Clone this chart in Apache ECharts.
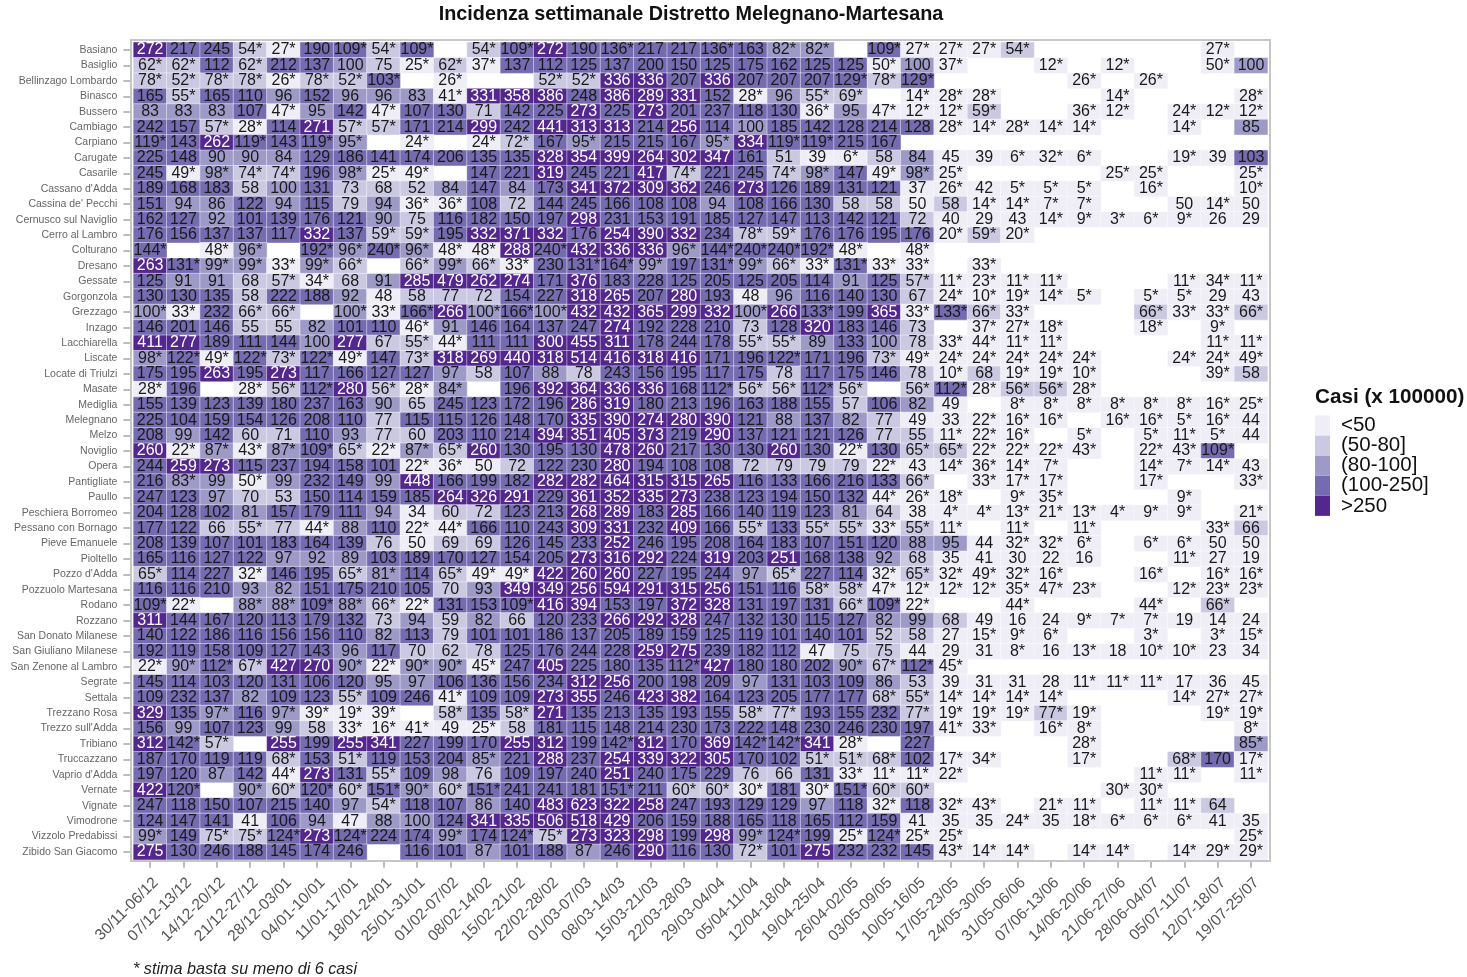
<!DOCTYPE html>
<html>
<head>
<meta charset="utf-8">
<title>Incidenza settimanale</title>
<script src="https://cdn.jsdelivr.net/npm/echarts@6/dist/echarts.min.js"></script>
<style>
  html, body { margin: 0; padding: 0; background: #fff; }
  #chart { width: 1467px; height: 977px; }
</style>
</head>
<body>
<div id="chart"></div>
<script>
const _ = null;

const weeks = [
  "30/11-06/12", "07/12-13/12", "14/12-20/12", "21/12-27/12", "28/12-03/01", "04/01-10/01", "11/01-17/01",
  "18/01-24/01", "25/01-31/01", "01/02-07/02", "08/02-14/02", "15/02-21/02", "22/02-28/02", "01/03-07/03",
  "08/03-14/03", "15/03-21/03", "22/03-28/03", "29/03-04/04", "05/04-11/04", "12/04-18/04", "19/04-25/04",
  "26/04-02/05", "03/05-09/05", "10/05-16/05", "17/05-23/05", "24/05-30/05", "31/05-06/06", "07/06-13/06",
  "14/06-20/06", "21/06-27/06", "28/06-04/07", "05/07-11/07", "12/07-18/07", "19/07-25/07"
];

const towns = [
  "Basiano", "Basiglio", "Bellinzago Lombardo", "Binasco", "Bussero", "Cambiago", "Carpiano", "Carugate",
  "Casarile", "Cassano d'Adda", "Cassina de' Pecchi", "Cernusco sul Naviglio", "Cerro al Lambro", "Colturano",
  "Dresano", "Gessate", "Gorgonzola", "Grezzago", "Inzago", "Lacchiarella", "Liscate", "Locate di Triulzi",
  "Masate", "Mediglia", "Melegnano", "Melzo", "Noviglio", "Opera", "Pantigliate", "Paullo", "Peschiera Borromeo",
  "Pessano con Bornago", "Pieve Emanuele", "Pioltello", "Pozzo d'Adda", "Pozzuolo Martesana", "Rodano", "Rozzano",
  "San Donato Milanese", "San Giuliano Milanese", "San Zenone al Lambro", "Segrate", "Settala", "Trezzano Rosa",
  "Trezzo sull'Adda", "Tribiano", "Truccazzano", "Vaprio d'Adda", "Vernate", "Vignate", "Vimodrone",
  "Vizzolo Predabissi", "Zibido San Giacomo"
];

// one line per town, "*" = stima su meno di 6 casi
const rates = [
  [272,217,245,"54*","27*",190,"109*","54*","109*",_,"54*","109*",272,190,"136*",217,217,"136*",163,"82*","82*",_,"109*","27*","27*","27*","54*",_,_,_,_,_,"27*",_],
  ["62*","62*",112,"62*",212,137,100,75,"25*","62*","37*",137,112,125,137,200,150,125,175,162,125,125,"50*",100,"37*",_,_,"12*",_,"12*",_,_,"50*",100],
  ["78*","52*","78*","78*","26*","78*","52*","103*",_,"26*",_,_,"52*","52*",336,336,207,336,207,207,207,"129*","78*","129*",_,_,_,_,"26*",_,"26*",_,_,_],
  [165,"55*",165,110,96,152,96,96,83,"41*",331,358,386,248,386,289,331,152,"28*",96,"55*","69*",_,"14*","28*","28*",_,_,_,"14*",_,_,_,"28*"],
  [83,83,83,107,"47*",95,142,"47*",107,130,71,142,225,273,225,273,201,237,118,130,"36*",95,"47*","12*","12*","59*",_,_,"36*","12*",_,"24*","12*","12*"],
  [242,157,"57*","28*",114,271,"57*","57*",171,214,299,242,441,313,313,214,256,114,100,185,142,128,214,128,"28*","14*","28*","14*","14*",_,_,"14*",_,85],
  ["119*",143,262,"119*",143,"119*","95*",_,"24*",_,"24*","72*",167,"95*",215,215,167,"95*",334,"119*","119*",215,167,_,_,_,_,_,_,_,_,_,_,_],
  [225,148,90,90,84,129,186,141,174,206,135,135,328,354,399,264,302,347,161,51,39,"6*",58,84,45,39,"6*","32*","6*",_,_,"19*",39,103],
  [245,"49*","98*","74*","74*",196,"98*","25*","49*",_,147,221,319,245,221,417,"74*",221,245,"74*","98*",147,"49*","98*","25*",_,_,_,_,"25*","25*",_,_,"25*"],
  [189,168,183,58,100,131,73,68,52,84,147,84,173,341,372,309,362,246,273,126,189,131,121,37,"26*",42,"5*","5*","5*",_,"16*",_,_,"10*"],
  [151,94,86,122,94,115,79,94,"36*","36*",108,72,144,245,166,108,108,94,108,166,130,58,58,50,58,"14*","14*","7*","7*",_,_,50,"14*",50],
  [162,127,92,101,139,176,121,90,75,116,182,150,197,298,231,153,191,185,127,147,113,142,121,72,40,29,43,"14*","9*","3*","6*","9*",26,29],
  [176,156,137,137,117,332,137,"59*","59*",195,332,371,332,176,254,390,332,234,"78*","59*",176,176,195,176,"20*","59*","20*",_,_,_,_,_,_,_],
  ["144*",_,"48*","96*",_,"192*","96*","240*","96*","48*","48*",288,"240*",432,336,336,"96*","144*","240*","240*","192*","48*",_,"48*",_,_,_,_,_,_,_,_,_,_],
  [263,"131*","99*","99*","33*","99*","66*",_,"66*","99*","66*","33*",230,"131*","164*","99*",197,"131*","99*","66*","33*","131*","33*","33*",_,"33*",_,_,_,_,_,_,_,_],
  [125,91,91,68,"57*","34*",68,91,285,479,262,274,171,376,183,228,125,205,125,205,114,91,125,"57*","11*","23*","11*","11*",_,_,_,"11*","34*","11*"],
  [130,130,135,58,222,188,92,48,58,77,72,154,227,318,265,207,280,193,48,96,116,140,130,67,"24*","10*","19*","14*","5*",_,"5*","5*",29,43],
  ["100*","33*",232,"66*","66*",_,"100*","33*","166*",266,"100*","166*","100*",432,432,365,299,332,"100*",266,"133*",199,365,"33*","133*","66*","33*",_,_,_,"66*","33*","33*","66*"],
  [146,201,146,55,55,82,101,110,"46*",91,146,164,137,247,274,192,228,210,73,128,320,183,146,73,_,"37*","27*","18*",_,_,"18*",_,"9*",_],
  [411,277,189,111,144,100,277,67,"55*","44*",111,111,300,455,311,178,244,178,"55*","55*",89,133,100,78,"33*","44*","11*","11*",_,_,_,_,"11*","11*"],
  ["98*","122*","49*","122*","73*","122*","49*",147,"73*",318,269,440,318,514,416,318,416,171,196,"122*",171,196,"73*","49*","24*","24*","24*","24*","24*",_,_,"24*","24*","49*"],
  [175,195,263,195,273,117,166,127,127,97,58,107,88,78,243,156,195,117,175,78,117,175,146,78,"10*",68,"19*","19*","10*",_,_,_,"39*",58],
  ["28*",196,_,"28*","56*","112*",280,"56*","28*","84*",_,196,392,364,336,336,168,"112*","56*","56*","112*","56*",_,"56*","112*","28*","56*","56*","28*",_,_,_,_,_],
  [155,139,123,139,180,237,163,90,65,245,123,172,196,286,319,180,213,196,163,188,155,57,106,82,49,_,"8*","8*","8*","8*","8*","8*","16*","25*"],
  [225,104,159,154,126,208,110,77,115,115,126,148,170,335,390,274,280,390,121,88,137,82,77,49,33,"22*","16*","16*",_,"16*","16*","5*","16*",44],
  [208,99,142,60,71,110,93,77,60,203,110,214,394,351,405,373,219,290,137,121,121,126,77,55,"11*","22*","16*",_,"5*",_,"5*","11*","5*",44],
  [260,"22*","87*","43*","87*","109*","65*","22*","87*","65*",260,130,195,130,478,260,217,130,130,260,130,"22*",130,"65*","65*","22*","22*","22*","43*",_,"22*","43*","109*",_],
  [244,259,273,115,237,194,158,101,"22*","36*",50,72,122,230,280,194,108,108,72,79,79,79,"22*",43,"14*","36*","14*","7*",_,_,"14*","7*","14*",43],
  [216,"83*",99,"50*",99,232,149,99,448,166,199,182,282,282,464,315,315,265,116,133,166,216,133,"66*",_,"33*","17*","17*",_,_,"17*",_,_,"33*"],
  [247,123,97,70,53,150,114,159,185,264,326,291,229,361,352,335,273,238,123,194,150,132,"44*","26*","18*",_,"9*","35*",_,_,_,"9*",_,_],
  [204,128,102,81,157,179,111,94,34,60,72,123,213,268,289,183,285,166,140,119,123,81,64,38,"4*","4*","13*","21*","13*","4*","9*","9*",_,"21*"],
  [177,122,66,"55*",77,"44*",88,110,"22*","44*",166,110,243,309,331,232,409,166,"55*",133,"55*","55*","33*","55*","11*",_,"11*",_,"11*",_,_,_,"33*",66],
  [208,139,107,101,183,164,139,76,50,69,69,126,145,233,252,246,195,208,164,183,107,151,120,88,95,44,"32*","32*","6*",_,"6*","6*",50,50],
  [165,116,127,122,97,92,89,103,189,170,127,154,205,273,316,292,224,319,203,251,168,138,92,68,35,41,30,22,16,_,_,"11*",27,19],
  ["65*",114,227,"32*",146,195,"65*","81*",114,"65*","49*","49*",422,260,260,227,195,244,97,"65*",227,114,"32*","65*","32*","49*","32*","16*",_,_,"16*",_,"16*","16*"],
  [116,116,210,93,82,151,175,210,105,70,93,349,349,256,594,291,315,256,151,116,"58*","58*","47*","12*","12*","12*","35*","47*","23*",_,_,"12*","23*","23*"],
  ["109*","22*",_,"88*","88*","109*","88*","66*","22*",131,153,"109*",416,394,153,197,372,328,131,197,131,"66*","109*","22*",_,_,"44*",_,_,_,"44*",_,"66*",_],
  [311,144,167,120,113,179,132,73,94,59,82,66,120,233,266,292,328,247,132,130,115,127,82,99,68,49,16,24,"9*","7*","7*",19,14,24],
  [140,122,186,116,156,156,110,82,113,79,101,101,186,137,205,189,159,125,119,101,140,101,52,58,27,"15*","9*","6*",_,_,"3*",_,"3*","15*"],
  [192,119,158,109,127,143,96,117,70,62,78,125,176,244,228,259,275,239,182,112,47,75,75,44,29,31,"8*",16,"13*",18,"10*","10*",23,34],
  ["22*","90*","112*","67*",427,270,"90*","22*","90*","90*","45*",247,405,225,180,135,"112*",427,180,180,202,"90*","67*","112*","45*",_,_,_,_,_,_,_,_,_],
  [145,114,103,120,131,106,120,95,97,106,136,156,234,312,256,200,198,209,97,131,103,109,86,53,39,31,31,28,"11*","11*","11*",17,36,45],
  [109,232,137,82,109,123,"55*",109,246,"41*",109,109,273,355,246,423,382,164,123,205,177,177,"68*","55*","14*","14*","14*","14*",_,_,_,"14*","27*","27*"],
  [329,135,"97*",116,"97*","39*","19*","39*",_,"58*",135,"58*",271,135,213,135,193,155,"58*","77*",193,155,232,"77*","19*","19*","19*","77*","19*",_,_,_,"19*","19*"],
  [156,99,107,123,99,58,"33*","16*","41*",49,"25*",58,181,115,148,214,230,173,222,148,230,246,230,197,"41*","33*",_,"16*","8*",_,_,_,_,"8*"],
  [312,"142*","57*",_,255,199,255,341,227,199,170,255,312,199,"142*",312,170,369,"142*","142*",341,"28*",_,227,_,_,_,_,"28*",_,_,_,_,"85*"],
  [187,170,119,119,"68*",153,"51*",119,153,204,"85*",221,288,237,254,339,322,305,170,102,"51*","51*","68*",102,"17*","34*",_,_,"17*",_,_,"68*",170,"17*"],
  [197,120,87,142,"44*",273,131,"55*",109,98,76,109,197,240,251,240,175,229,76,66,131,"33*","11*","11*","22*",_,_,_,_,_,"11*","11*",_,"11*"],
  [422,"120*",_,"90*","60*","120*","60*","151*","90*","60*","151*",241,241,181,"151*",211,"60*","60*","30*",181,"30*","151*","60*","60*",_,_,_,_,_,"30*","30*",_,_,_],
  [247,118,150,107,215,140,97,"54*",118,107,86,140,483,623,322,258,247,193,129,129,97,118,"32*",118,"32*","43*",_,"21*","11*",_,"11*","11*",64,_],
  [124,147,141,41,106,94,47,88,100,124,341,335,506,518,429,206,159,188,165,118,165,112,159,41,35,35,"24*",35,"18*","6*","6*","6*",41,35],
  ["99*",149,"75*","75*","124*",273,"124*",224,174,"99*",174,"124*","75*",273,323,298,199,298,"99*","124*",199,"25*","124*","25*","25*",_,_,_,_,_,_,_,_,"25*"],
  [275,130,246,188,145,174,246,_,116,101,87,101,188,87,246,290,116,130,"72*",101,275,232,232,145,"43*","14*","14*",_,"14*","14*",_,"14*","29*","29*"]
];

const binLabels = ["<50", "(50-80]", "(80-100]", "(100-250]", ">250"];
const binColors = ["#efedf5", "#cbc9e2", "#9e9ac8", "#756bb1", "#54278f"];
const binEdges = [50, 80, 100, 250];

const chartTitle = "Incidenza settimanale Distretto Melegnano-Martesana";
const legendTitle = "Casi (x 100000)";
const footnote = "* stima basta su meno di 6 casi";

// the starred 50s are rounded up from just below 50, they sit in the lowest bin
const binValue = (cell) => (cell === "50*" ? 49.9 : parseFloat(cell));

const cells = [];
rates.forEach((row, y) => {
  row.forEach((cell, x) => {
    if (cell === null) return;
    const v = binValue(cell);
    cells.push({
      value: [x, y, v],
      text: String(cell),
      label: { color: v > binEdges[3] ? "#fff" : "#1a1a1a" },
    });
  });
});

const pieces = binLabels.map((label, i) => ({
  min: i === 0 ? 0 : binEdges[i - 1],
  max: i === binEdges.length ? 10000 : binEdges[i],
  maxOpen: i === 0,
  minOpen: i > 1,
  label: label,
  color: binColors[i],
}));

const chart = echarts.init(document.getElementById("chart"));
chart.setOption({
  animation: false,
  backgroundColor: "#fff",
  textStyle: { fontFamily: "Liberation Sans" },
  title: [
    {
      text: chartTitle,
      left: 686,
      top: 0,
      textAlign: "center",
      textStyle: { fontSize: 19.8, fontWeight: "bold", color: "#111", fontFamily: "Liberation Sans" },
    },
    {
      text: legendTitle,
      left: 1310,
      top: 382,
      textStyle: { fontSize: 20.7, fontWeight: "bold", color: "#111", fontFamily: "Liberation Sans" },
    },
    {
      text: footnote,
      left: 128,
      top: 956,
      textStyle: { fontSize: 16.2, fontWeight: "normal", fontStyle: "italic", color: "#222", fontFamily: "Liberation Sans" },
    },
  ],
  grid: { left: 133.4, top: 42.3, width: 1134.3, height: 817.4, containLabel: false },
  xAxis: {
    type: "category",
    position: "bottom",
    data: weeks,
    offset: 2,
    axisLine: { show: false },
    axisTick: { show: true, alignWithLabel: true, length: 6, lineStyle: { color: "#bdbdbd", width: 2 } },
    axisLabel: { interval: 0, rotate: 45, fontSize: 15.5, color: "#555", margin: 13, verticalAlign: "top" },
    splitLine: { show: false },
  },
  yAxis: {
    type: "category",
    inverse: true,
    data: towns,
    offset: 3,
    axisLine: { show: false },
    axisTick: { show: true, alignWithLabel: true, length: 7, lineStyle: { color: "#bdbdbd", width: 2 } },
    axisLabel: { interval: 0, fontSize: 10.5, color: "#666", margin: 13 },
    splitLine: { show: false },
  },
  visualMap: {
    type: "piecewise",
    dimension: 2,
    seriesIndex: 0,
    pieces: pieces,
    orient: "vertical",
    align: "left",
    inverse: true,
    left: 1315,
    top: 415,
    padding: 0,
    itemWidth: 15,
    itemHeight: 20,
    itemGap: -0.9,
    itemSymbol: "rect",
    textGap: 11,
    hoverLink: false,
    selectedMode: false,
    textStyle: { fontSize: 20.5, color: "#111" },
  },
  graphic: [
    {
      type: "rect",
      silent: true,
      z: 10,
      shape: { x: 131, y: 40, width: 1139, height: 821 },
      style: { fill: "transparent", stroke: "#c6c6c6", lineWidth: 2 },
    },
  ],
  series: [
    {
      type: "heatmap",
      data: cells,
      itemStyle: { borderColor: "rgba(255,255,255,0.55)", borderWidth: 0.8 },
      label: {
        show: true,
        fontSize: 16,
        textBorderWidth: 0,
        textBorderColor: "transparent",
        formatter: (p) => p.data.text,
      },
      emphasis: { disabled: true },
    },
  ],
});
</script>
</body>
</html>
